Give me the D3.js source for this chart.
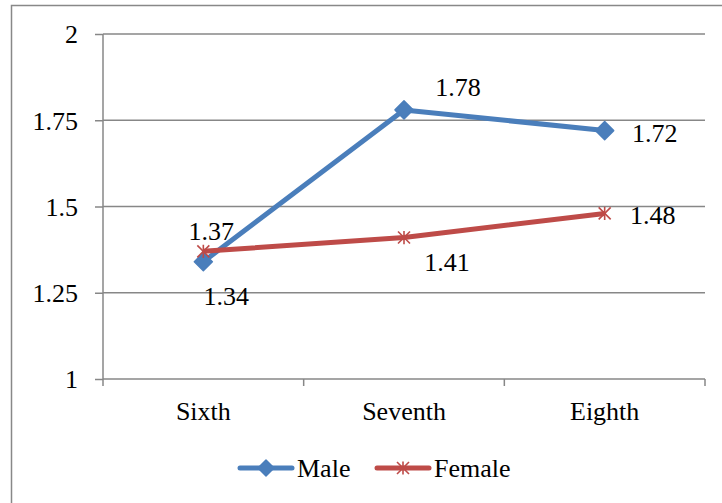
<!DOCTYPE html>
<html><head><meta charset="utf-8">
<script src="https://cdn.jsdelivr.net/npm/d3@7"></script>
<style>body{margin:0;background:#fff}svg{display:block}text{font-family:"Liberation Serif","DejaVu Serif",serif;fill:#000}</style>
</head><body><svg id="c" width="722" height="503"></svg>
<script>
const categories = ["Sixth","Seventh","Eighth"];
const male = [1.34,1.78,1.72];
const female = [1.37,1.41,1.48];
const yTicks = [1,1.25,1.5,1.75,2];
const yTickLabels = ["1","1.25","1.5","1.75","2"];
const seriesNames = ["Male","Female"];

(function(){
const FS="26px";
const svg = d3.select("#c");
svg.append("rect").attr("x",11.5).attr("y",5.5).attr("width",730).attr("height",520).attr("fill","#fff").attr("stroke","#888").attr("stroke-width",1.5);

const pL=103,pR=705,pT=34,pB=379;
const x = d3.scaleBand().domain(categories).range([pL,pR]);
const y = d3.scaleLinear().domain([1,2]).range([pB,pT]);
const cx = d=>x(d)+x.bandwidth()/2;
const grid="#878787";

svg.append("g").selectAll("line").data(yTicks.slice(1)).join("line")
 .attr("x1",pL).attr("x2",pR).attr("y1",d=>y(d)).attr("y2",d=>y(d))
 .attr("stroke",grid).attr("stroke-width",1.5);

const ya = svg.append("g").attr("transform",`translate(${pL},0)`)
 .call(d3.axisLeft(y).tickValues(yTicks).tickFormat((d,i)=>yTickLabels[i]).tickSize(8).tickPadding(17));
ya.select(".domain").attr("stroke",grid).attr("stroke-width",1.5).attr("d",`M0,${pT}V${pB}`);
ya.selectAll(".tick line").attr("stroke",grid).attr("stroke-width",1.5);
ya.selectAll("text").style("font-size",FS).attr("font-family",null).attr("fill","#000").attr("dy","0.34em");

const xa = svg.append("g").attr("transform",`translate(0,${pB})`)
 .call(d3.axisBottom(x).tickSize(0).tickPadding(23));
xa.select(".domain").attr("stroke",grid).attr("stroke-width",1.5).attr("d",`M${pL},0H${pR}`);
xa.selectAll("text").style("font-size",FS).attr("font-family",null).attr("fill","#000");
const bounds=[...categories.map(c=>x(c)), pR];
xa.selectAll(".bt").data(bounds).join("line").attr("x1",d=>d).attr("x2",d=>d).attr("y1",0).attr("y2",7).attr("stroke",grid).attr("stroke-width",1.5);

const line = d3.line().x((d,i)=>cx(categories[i])).y(d=>y(d));
const blue="#4A7EBB", red="#BE4B48";
svg.append("path").datum(male).attr("d",line).attr("fill","none").attr("stroke",blue).attr("stroke-width",5).attr("stroke-linejoin","round");
svg.append("path").datum(female).attr("d",line).attr("fill","none").attr("stroke",red).attr("stroke-width",5).attr("stroke-linejoin","round");

function diamond(g,px,py,r){g.append("path").attr("d",`M${px},${py-r}L${px+r},${py}L${px},${py+r}L${px-r},${py}Z`).attr("fill",blue).attr("stroke",blue).attr("stroke-width",1.5).attr("stroke-linejoin","round");}
function star(g,px,py,r){
  const s=g.append("g").attr("stroke",red).attr("stroke-width",1.6);
  s.append("line").attr("x1",px-r).attr("x2",px+r).attr("y1",py-r).attr("y2",py+r);
  s.append("line").attr("x1",px-r).attr("x2",px+r).attr("y1",py+r).attr("y2",py-r);
  s.append("line").attr("x1",px).attr("x2",px).attr("y1",py-r*1.1).attr("y2",py+r*1.1);
}
const mg=svg.append("g");
male.forEach((v,i)=>diamond(mg,cx(categories[i]),y(v),9));
female.forEach((v,i)=>star(mg,cx(categories[i]),y(v),6));

const maleOff=[[23,34],[54,-23],[50,3]];
const femaleOff=[[8,-20],[43,25],[48,2]];
const lbl=svg.append("g").style("font-size",FS);
male.forEach((v,i)=>lbl.append("text").attr("x",cx(categories[i])+maleOff[i][0]).attr("y",y(v)+maleOff[i][1]).attr("text-anchor","middle").attr("dy","0.34em").text(v.toFixed(2)));
female.forEach((v,i)=>lbl.append("text").attr("x",cx(categories[i])+femaleOff[i][0]).attr("y",y(v)+femaleOff[i][1]).attr("text-anchor","middle").attr("dy","0.34em").text(v.toFixed(2)));

const lg=svg.append("g").style("font-size",FS);
const ly=468;
lg.append("line").attr("x1",240).attr("x2",292).attr("y1",ly).attr("y2",ly).attr("stroke",blue).attr("stroke-width",5).attr("stroke-linecap","round");
diamond(lg,266,ly,8);
lg.append("text").attr("x",297).attr("y",ly).attr("dy","0.34em").text(seriesNames[0]);
lg.append("line").attr("x1",377).attr("x2",429).attr("y1",ly).attr("y2",ly).attr("stroke",red).attr("stroke-width",5).attr("stroke-linecap","round");
star(lg,403,ly,6);
lg.append("text").attr("x",434).attr("y",ly).attr("dy","0.34em").text(seriesNames[1]);
})();
</script></body></html>
